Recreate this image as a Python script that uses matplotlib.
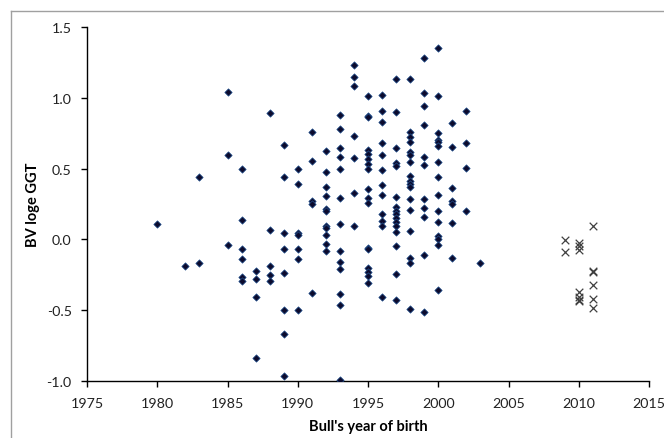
import matplotlib
matplotlib.use("Agg")
import matplotlib.pyplot as plt
from matplotlib.lines import Line2D

plt.rcParams['font.family'] = ['Lato', 'DejaVu Sans']

# Historical bulls (diamonds): year -> BV values
bull_data = {
    1980: [0.107],
    1982: [-0.19],
    1983: [0.444, -0.17],
    1985: [1.04, 0.597, -0.04],
    1986: [0.50, 0.14, -0.07, -0.14, -0.265, -0.293],
    1987: [-0.222, -0.277, -0.41, -0.84],
    1988: [0.896, 0.063, -0.187, -0.25, -0.293],
    1989: [0.666, 0.444, 0.048, -0.07, -0.235, -0.499, -0.67, -0.965],
    1990: [0.494, 0.388, 0.048, 0.03, -0.07, -0.14, -0.499],
    1991: [0.757, 0.552, 0.272, 0.249, -0.38],
    1992: [0.623, 0.477, 0.369, 0.305, 0.218, 0.202, 0.098, 0.079, 0.032, -0.034, -0.081],
    1993: [0.877, 0.778, 0.649, 0.583, 0.496, 0.289, 0.112, -0.079, -0.163, -0.206, -0.383, -0.462, -0.99],
    1994: [1.231, 1.148, 1.082, 0.731, 0.578, 0.326, 0.093],
    1995: [1.014, 0.873, 0.861, 0.63, 0.602, 0.567, 0.531, 0.496, 0.355, 0.291, 0.256,
           -0.058, -0.07, -0.199, -0.227, -0.258, -0.307],
    1996: [1.023, 0.906, 0.826, 0.68, 0.593, 0.491, 0.383, 0.312, 0.178, 0.131, 0.093, -0.406],
    1997: [1.132, 0.901, 0.642, 0.541, 0.52, 0.301, 0.23, 0.202, 0.178, 0.154, 0.126, 0.096,
           0.053, -0.048, -0.246, -0.425],
    1998: [1.13, 0.762, 0.724, 0.687, 0.618, 0.597, 0.545, 0.449, 0.414, 0.39, 0.371, 0.284,
           0.209, 0.056, -0.133, -0.17, -0.491],
    1999: [1.28, 1.031, 0.942, 0.81, 0.583, 0.527, 0.284, 0.22, 0.159, -0.11, -0.515],
    2000: [1.351, 1.014, 0.748, 0.704, 0.685, 0.661, 0.545, 0.44, 0.312, 0.202, 0.126, 0.025,
           0.001, -0.039, -0.354],
    2001: [0.819, 0.656, 0.364, 0.272, 0.249, 0.117, -0.128],
    2002: [0.908, 0.68, 0.503, 0.204],
    2003: [-0.17],
}

# Young bulls (crosses)
young_data = {
    2009: [-0.006, -0.086],
    2010: [-0.022, -0.046, -0.074, -0.368, -0.41, -0.43, -0.437],
    2011: [0.095, -0.225, -0.232, -0.32, -0.418, -0.484],
}

x_ticks = [1975, 1980, 1985, 1990, 1995, 2000, 2005, 2010, 2015]
y_ticks = [-1.0, -0.5, 0.0, 0.5, 1.0, 1.5]
x_label = "Bull's year of birth"
y_label = "BV loge GGT"

bx = [yr for yr, vals in bull_data.items() for _ in vals]
by = [v for vals in bull_data.values() for v in vals]
yx = [yr for yr, vals in young_data.items() for _ in vals]
yy = [v for vals in young_data.values() for v in vals]

fig = plt.figure(figsize=(6.64, 4.39), dpi=100)
ax = fig.add_axes([87/664, 1-382/439, (649-87)/664, (382-28)/439])

ax.scatter(bx, by, marker='D', s=14, color='#0b0b2e', edgecolors='#1f4e8c',
           linewidths=0.5, zorder=3)
ax.scatter(yx, yy, marker='x', s=30, color='#404040', linewidths=0.9, zorder=3)

ax.set_xlim(1975, 2015)
ax.set_ylim(-1.0, 1.5)
ax.set_xticks(x_ticks)
ax.set_yticks(y_ticks)
ax.set_yticklabels([f"{t:.1f}" for t in y_ticks])
for s in ['top', 'right']:
    ax.spines[s].set_visible(False)
for s in ['left', 'bottom']:
    ax.spines[s].set_color('black')
    ax.spines[s].set_linewidth(1.0)
ax.tick_params(axis='both', direction='out', length=4, width=1, colors='black',
               labelsize=10.3, labelcolor='#222222')
ax.tick_params(axis='x', pad=7.5)
ax.tick_params(axis='y', pad=7)
ax.set_xlabel(x_label, fontsize=10.5, fontweight='bold', labelpad=7)
ax.set_ylabel(y_label, fontsize=10.5, fontweight='bold', labelpad=5)

# outer chart border (left and top visible)
fig.add_artist(Line2D([11/664, 11/664], [0, 1-12/439], color='#a0a0a0', lw=1,
                      transform=fig.transFigure))
fig.add_artist(Line2D([11/664, 1], [1-12/439, 1-12/439], color='#a0a0a0', lw=1,
                      transform=fig.transFigure))

fig.savefig("out.png", dpi=100)
